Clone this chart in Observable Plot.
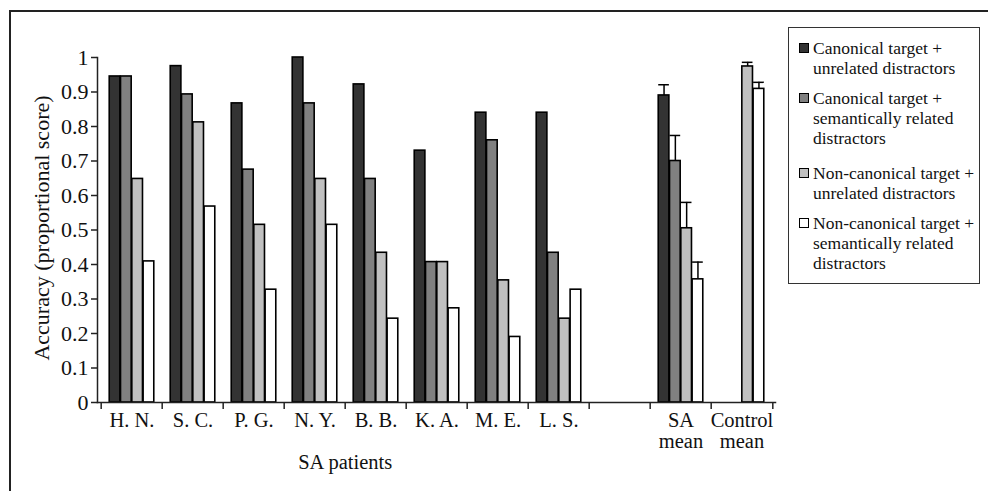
<!DOCTYPE html>
<html><head><meta charset="utf-8">
<script src="https://cdn.jsdelivr.net/npm/d3@7"></script>
<script src="https://cdn.jsdelivr.net/npm/@observablehq/plot@0.6"></script>
<style>
body{margin:0;background:#fff;width:988px;height:491px;overflow:hidden;position:relative;font-family:"Liberation Serif","Times New Roman",serif;}
#frame{position:absolute;left:9px;top:10px;width:1100px;height:600px;border:2px solid #222;}
#chart{position:absolute;left:0;top:0;}
#legend{position:absolute;left:788px;top:27px;width:190px;height:255px;border:1px solid #333;background:#fff;}
.item{position:absolute;left:0;width:190px;font-family:"Liberation Serif","Times New Roman",serif;font-size:17.5px;line-height:20px;color:#111}
.sw{position:absolute;left:10px;top:5px;width:8px;height:8px;border:1px solid #000}
.txt{position:absolute;left:24px;top:0;white-space:nowrap}
</style>
</head><body>
<div id="frame"></div>
<div id="chart"></div>
<div id="legend"></div>
<script>
const categories = ["H. N.","S. C.","P. G.","N. Y.","B. B.","K. A.","M. E.","L. S.","","SA mean","Control mean"];
const categoryLabels = ["H. N.","S. C.","P. G.","N. Y.","B. B.","K. A.","M. E.","L. S.","","SA\nmean","Control\nmean"];
const seriesNames = ["Canonical target + unrelated distractors","Canonical target + semantically related distractors","Non-canonical target + unrelated distractors","Non-canonical target + semantically related distractors"];
const seriesLegendLines = [["Canonical target +","unrelated distractors"],["Canonical target +","semantically related","distractors"],["Non-canonical target +","unrelated distractors"],["Non-canonical target +","semantically related","distractors"]];
const seriesColors = ["#333333","#808080","#c0c0c0","#ffffff"];
const canonicalUnrelated   = [0.945,0.975,0.867,1.0,0.922,0.73,0.84,0.84,null,0.89,null];
const canonicalRelated     = [0.945,0.893,0.675,0.867,0.648,0.407,0.76,0.434,null,0.70,null];
const noncanonicalUnrelated= [0.648,0.812,0.515,0.648,0.434,0.407,0.354,0.243,null,0.505,0.974];
const noncanonicalRelated  = [0.409,0.568,0.327,0.515,0.243,0.273,0.19,0.327,null,0.357,0.909];
const errorTopCanonicalUnrelated    = [null,null,null,null,null,null,null,null,null,0.921,null];
const errorTopCanonicalRelated      = [null,null,null,null,null,null,null,null,null,0.774,null];
const errorTopNoncanonicalUnrelated = [null,null,null,null,null,null,null,null,null,0.58,0.986];
const errorTopNoncanonicalRelated   = [null,null,null,null,null,null,null,null,null,0.407,0.928];
const yTicks = [0,0.1,0.2,0.3,0.4,0.5,0.6,0.7,0.8,0.9,1];
const yTickLabels = ["0","0.1","0.2","0.3","0.4","0.5","0.6","0.7","0.8","0.9","1"];
const yTitle = "Accuracy (proportional score)";
const xTitle = "SA patients";

const seriesValues = [canonicalUnrelated, canonicalRelated, noncanonicalUnrelated, noncanonicalRelated];
const seriesErrors = [errorTopCanonicalUnrelated, errorTopCanonicalRelated, errorTopNoncanonicalUnrelated, errorTopNoncanonicalRelated];

const W = 988, H = 491, ML = 97, MR = 213, MT = 57, MB = 89;
const step = (W - ML - MR) / categories.length;
const bw = 11.3;
const pad = (step - 4 * bw) / 2;

const marks = [];
seriesValues.forEach((vals, i) => {
  const rows = categories.map((c, k) => ({cat: c, v: vals[k], e: seriesErrors[i][k]})).filter(d => d.v != null);
  marks.push(Plot.barY(rows, {x: "cat", y: "v", fill: seriesColors[i], stroke: "#000", strokeWidth: 1.6,
    insetLeft: pad + i * bw, insetRight: pad + (3 - i) * bw}));
});
seriesValues.forEach((vals, i) => {
  const rows = categories.map((c, k) => ({cat: c, v: vals[k], e: seriesErrors[i][k]})).filter(d => d.v != null && d.e != null);
  const off = -step / 2 + pad + (i + 0.5) * bw;
  marks.push(Plot.ruleX(rows, {x: "cat", y1: "v", y2: "e", dx: off, stroke: "#000", strokeWidth: 1.5}));
  marks.push(Plot.tickY(rows, {x: "cat", y: "e", stroke: "#000", strokeWidth: 1.5,
    insetLeft: pad + i * bw, insetRight: pad + (3 - i) * bw}));
});

const chart = Plot.plot({
  width: W, height: H,
  marginLeft: ML, marginRight: MR, marginTop: MT, marginBottom: MB,
  style: {fontFamily: "'Liberation Serif','Times New Roman',serif", fontSize: "20px", color: "#111", background: "transparent", overflow: "visible"},
  x: {type: "band", domain: categories, padding: 0, axis: null},
  y: {domain: [0, 1], axis: null},
  marks: [
    ...marks,
    Plot.frame({anchor: "left", stroke: "#222", strokeWidth: 1.5}),
    Plot.frame({anchor: "bottom", stroke: "#222", strokeWidth: 1.5}),
    Plot.axisY(yTicks, {tickSize: 6, tickPadding: 3, strokeWidth: 1.5, stroke: "#222", tickFormat: (d) => yTickLabels[yTicks.indexOf(d)], label: null, fontSize: 22}),
    Plot.axisX(categories, {tickSize: 7, strokeWidth: 1.5, stroke: "#222", tickFormat: () => "", dx: -step / 2, label: null}),
    Plot.axisX([categories[categories.length - 1]], {tickSize: 7, strokeWidth: 1.5, stroke: "#222", tickFormat: () => "", dx: step / 2, label: null}),
    Plot.axisX(categories, {tickSize: 0, tickPadding: 10, tickFormat: (d) => categoryLabels[categories.indexOf(d)], label: null, fontSize: 20.5}),
    Plot.text([yTitle], {frameAnchor: "left", textAnchor: "middle", lineAnchor: "middle", dx: -56, dy: -2, rotate: -90, fontSize: 22, fill: "#111"}),
    Plot.text([xTitle], {x: () => "B. B.", frameAnchor: "bottom", dx: -step / 2, dy: 66, fontSize: 20.5, fill: "#111"})
  ]
});
document.getElementById("chart").appendChild(chart);

const legendTops = [10, 60, 135, 185];
const legend = document.getElementById("legend");
seriesLegendLines.forEach((lines, i) => {
  const it = document.createElement("div");
  it.className = "item";
  it.style.top = legendTops[i] + "px";
  const sw = document.createElement("div");
  sw.className = "sw";
  sw.style.background = seriesColors[i];
  const tx = document.createElement("div");
  tx.className = "txt";
  tx.title = seriesNames[i];
  tx.innerHTML = lines.join("<br>");
  it.appendChild(sw); it.appendChild(tx);
  legend.appendChild(it);
});
</script>
</body></html>
